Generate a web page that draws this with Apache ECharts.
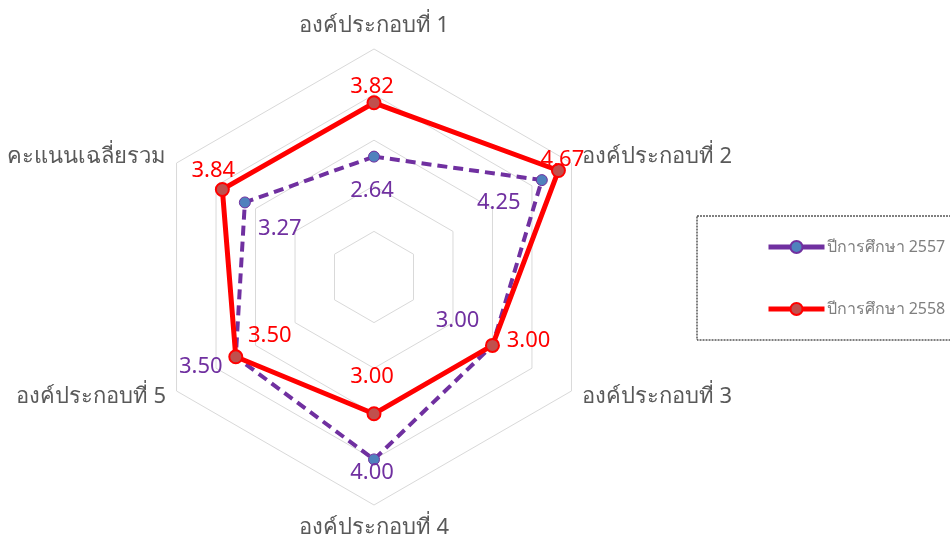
<!DOCTYPE html>
<html>
<head>
<meta charset="utf-8">
<script src="https://cdn.jsdelivr.net/npm/echarts@6/dist/echarts.min.js"></script>
<style>
  html, body { margin: 0; padding: 0; background: #fff; }
  #chart { width: 950px; height: 541px; }
</style>
</head>
<body>
<div id="chart"></div>
<script>
// หมวดหมู่ (เรียงตามเข็มนาฬิกา เริ่มจากด้านบน)
const categories = ['องค์ประกอบที่ 1', 'องค์ประกอบที่ 2', 'องค์ประกอบที่ 3', 'องค์ประกอบที่ 4', 'องค์ประกอบที่ 5', 'คะแนนเฉลี่ยรวม']
const seriesNames = ['ปีการศึกษา 2557', 'ปีการศึกษา 2558']
const values2557 = [2.64, 4.25, 3.00, 4.00, 3.50, 3.27]
const values2558 = [3.82, 4.67, 3.00, 3.00, 3.50, 3.84]
const scaleMax = 5

// ตำแหน่งป้ายข้อมูล (เลื่อนจากจุด)
const offsets2557 = [[-2, 34], [-43, 23], [-35, -25], [-2, 13], [-35, 10], [35, 26]]
const offsets2558 = [[-2, -16], [4, -11], [36, -5], [-2, -37], [34, -21], [-9, -19]]

const center = [374, 277]
const radius = 228
const font = "'Noto Sans', 'DejaVu Sans', sans-serif"

// radar วางแกนทวนเข็มนาฬิกา จึงกลับลำดับ
const radarOrder = [categories[0]].concat(categories.slice(1).reverse())

// สร้างข้อมูลเส้นปิดบน polar (มุม = ลำดับหมวดหมู่)
const buildData = (vals, offs, color) => {
  const data = vals.map((v, i) => ({
    value: [v, i],
    label: { show: true, position: 'inside', offset: offs[i], color: color,
      fontSize: 22, fontFamily: font, formatter: () => v.toFixed(2) }
  }))
  data.push({ value: [vals[0], categories.length], symbol: 'none', label: { show: false } })
  return data
}

const chart = echarts.init(document.getElementById('chart'))

chart.setOption({
  backgroundColor: '#fff',
  animation: false,
  radar: {
    center: center,
    radius: radius,
    shape: 'polygon',
    splitNumber: 5,
    startAngle: 90,
    indicator: radarOrder.map(n => ({ name: n, min: 0, max: scaleMax })),
    nameGap: 12,
    axisName: { color: '#595959', fontSize: 22, fontFamily: font },
    axisLine: { show: false },
    axisTick: { show: false },
    axisLabel: { show: false },
    splitArea: { show: false },
    splitLine: { lineStyle: { color: '#d9d9d9', width: 1 } }
  },
  polar: { center: center, radius: radius },
  angleAxis: {
    type: 'value',
    min: 0,
    max: categories.length,
    startAngle: 90,
    clockwise: true,
    show: false
  },
  radiusAxis: { type: 'value', min: 0, max: scaleMax, show: false },
  legend: {
    orient: 'vertical',
    left: 697,
    top: 216,
    padding: [23, 40, 23, 69],
    itemWidth: 56,
    itemHeight: 15,
    itemGap: 46,
    borderColor: '#000',
    borderWidth: 1,
    borderType: [2, 1],
    textStyle: { color: '#7f7f7f', fontSize: 16, fontFamily: font, padding: [0, 0, 0, -3] },
    data: [
      { name: seriesNames[0], lineStyle: { type: 'solid', width: 5 } },
      { name: seriesNames[1], lineStyle: { width: 5 } }
    ]
  },
  series: [
    {
      name: seriesNames[0],
      type: 'line',
      coordinateSystem: 'polar',
      clip: false,
      symbol: 'circle',
      symbolSize: 11,
      lineStyle: { color: '#7030A0', width: 4, type: [10, 6] },
      itemStyle: { color: '#4F81BD', borderColor: '#7030A0', borderWidth: 1 },
      data: buildData(values2557, offsets2557, '#7030A0'),
      z: 3
    },
    {
      name: seriesNames[1],
      type: 'line',
      coordinateSystem: 'polar',
      clip: false,
      symbol: 'circle',
      symbolSize: 13,
      lineStyle: { color: '#FF0000', width: 5 },
      itemStyle: { color: '#C0504D', borderColor: '#FF0000', borderWidth: 2 },
      data: buildData(values2558, offsets2558, '#FF0000'),
      z: 4
    }
  ]
})
</script>
</body>
</html>
